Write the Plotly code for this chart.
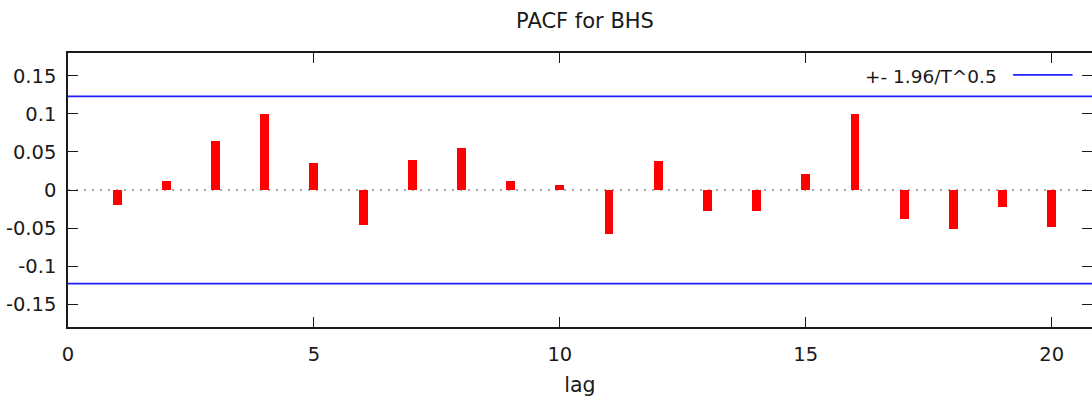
import plotly.graph_objects as go

# Partial autocorrelations of BHS, lags 1..20
lags = list(range(1, 21))
pacf = [-0.020, 0.012, 0.064, 0.100, 0.036, -0.046, 0.040, 0.055, 0.012, 0.007,
        -0.058, 0.038, -0.027, -0.027, 0.021, 0.100, -0.038, -0.051, -0.022, -0.048]

# 95% band: +- 1.96 / sqrt(T)
band = 0.123
band_label = "+- 1.96/T^0.5"

x_max = 20.82
y_lim = 0.18
x_ticks = [0, 5, 10, 15, 20]
y_ticks = [-0.15, -0.1, -0.05, 0, 0.05, 0.1, 0.15]
y_ticktext = ["-0.15", "-0.1", "-0.05", "0", "0.05", "0.1", "0.15"]

FONT = "DejaVu Sans"
INK = "#1a1a1a"
BLUE = "#1f1fff"

fig = go.Figure()

fig.add_trace(go.Bar(
    x=lags, y=pacf, width=0.18,
    marker=dict(color="#ff0000", line=dict(width=0)),
    showlegend=False, hoverinfo="x+y",
))

# confidence band lines, on the right-hand mirror axis (same range)
fig.add_trace(go.Scatter(
    x=[0, x_max, None, 0, x_max], y=[band, band, None, -band, -band],
    mode="lines", line=dict(color=BLUE, width=1.8),
    yaxis="y2", showlegend=False, hoverinfo="skip",
))

axis_common = dict(
    ticks="inside", ticklen=10, tickwidth=1.3, tickcolor=INK,
    showgrid=False, zeroline=False,
)

fig.update_layout(
    width=1092, height=398,
    margin=dict(l=68, r=0, t=53, b=71),
    paper_bgcolor="white", plot_bgcolor="white",
    font=dict(family=FONT, size=19.5, color=INK),
    title=dict(text="PACF for BHS", x=585 / 1092, xref="container", xanchor="center",
               y=1 - 21 / 398, yref="container", yanchor="middle",
               font=dict(family=FONT, size=21, color=INK)),
    xaxis=dict(
        range=[0, x_max], tickvals=x_ticks, ticktext=[str(t) for t in x_ticks],
        showline=True, linecolor=INK, linewidth=1.5, mirror="ticks",
        ticklabelstandoff=9,
        tickfont=dict(family=FONT, size=19.5, color=INK),
        title=dict(text="lag", standoff=12, font=dict(family=FONT, size=20.5, color=INK)),
        **axis_common,
    ),
    yaxis=dict(
        range=[-y_lim, y_lim], tickvals=y_ticks, ticktext=y_ticktext,
        showline=True, linecolor=INK, linewidth=1.5, mirror=False,
        ticklabelstandoff=6,
        tickfont=dict(family=FONT, size=19.5, color=INK),
        **axis_common,
    ),
    yaxis2=dict(
        range=[-y_lim, y_lim], tickvals=y_ticks, overlaying="y", side="right",
        anchor="x", showticklabels=False, showline=False,
        **axis_common,
    ),
    bargap=0,
)

# dotted zero reference line
fig.add_shape(type="line", xref="paper", x0=0, x1=1, yref="y", y0=0, y1=0,
              line=dict(color="#a8a8a8", width=2, dash="2px,6px"), layer="below")

# key: text followed by a line sample
fig.add_annotation(text=band_label, xref="paper", yref="paper",
                   x=0.909, y=0.914, xanchor="right", yanchor="middle",
                   showarrow=False, font=dict(family=FONT, size=18.5, color=INK))
fig.add_shape(type="line", xref="paper", yref="paper",
              x0=0.923, x1=0.981, y0=0.920, y1=0.920,
              line=dict(color=BLUE, width=1.8))

fig.write_html("out.html")
